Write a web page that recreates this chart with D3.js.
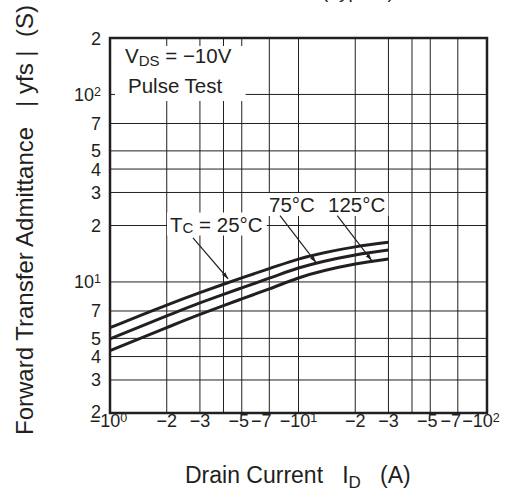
<!DOCTYPE html>
<html>
<head>
<meta charset="utf-8">
<script src="https://cdn.jsdelivr.net/npm/d3@7"></script>
<style>
  body { margin: 0; background: #fff; }
  text { font-family: "Liberation Sans", Arial, sans-serif; fill: #231f20; }
</style>
</head>
<body>
<div id="chart"></div>
<script>
// Data (|ID| in A, |yfs| in S)
const drainCurrent = [1, 2, 3, 4, 5, 7, 10, 20, 30];
const yfs25 = [5.70, 7.53, 8.77, 9.72, 10.51, 11.78, 13.24, 15.38, 16.26];
const yfs75 = [4.97, 6.59, 7.73, 8.59, 9.30, 10.47, 11.86, 13.93, 14.79];
const yfs125 = [4.30, 5.71, 6.71, 7.48, 8.12, 9.18, 10.50, 12.45, 13.24];

// grid + ticks
const xGrid = [2, 3, 4, 5, 7, 10, 20, 30, 40, 50, 70];
const yGrid = [3, 4, 5, 7, 10, 20, 30, 40, 50, 70, 100];
const xTickValues = [1, 2, 3, 5, 7, 10, 20, 30, 50, 70, 100];
const xTickLabels = ["−10^0", "−2", "−3", "−5", "−7", "−10^1", "−2", "−3", "−5", "−7", "−10^2"];
const yTickValues = [200, 100, 70, 50, 40, 30, 20, 10, 7, 5, 4, 3, 2];
const yTickLabels = ["2", "10^2", "7", "5", "4", "3", "2", "10^1", "7", "5", "4", "3", "2"];

const ink = "#231f20";
const margin = { top: 38, right: 25, bottom: 82, left: 110 };
const width = 512 - margin.left - margin.right;
const height = 495 - margin.top - margin.bottom;

const root = d3.select("#chart").append("svg")
    .attr("width", 512)
    .attr("height", 495);

const svg = root.append("g")
    .attr("transform", `translate(${margin.left},${margin.top})`);

const x = d3.scaleLog().domain([1, 100]).range([0, width]);
const y = d3.scaleLog().domain([2, 200]).range([height, 0]);

// label with optional superscript "a^b"
function supText(sel, str, supSize) {
    const parts = str.split("^");
    sel.append("tspan").text(parts[0]);
    if (parts[1]) sel.append("tspan").attr("font-size", supSize).attr("dy", -5).text(parts[1]);
}

// grid
svg.append("g").selectAll("line").data(xGrid).enter().append("line")
    .attr("x1", d => x(d)).attr("x2", d => x(d))
    .attr("y1", 0).attr("y2", height)
    .attr("stroke", ink).attr("stroke-width", 1);
svg.append("g").selectAll("line").data(yGrid).enter().append("line")
    .attr("x1", 0).attr("x2", width)
    .attr("y1", d => y(d)).attr("y2", d => y(d))
    .attr("stroke", ink).attr("stroke-width", 1);

// labels inside the plot (white boxes hide the grid behind them)
const boxes = svg.append("g");
const notes = svg.append("g").attr("font-size", 20.5);

const vds = notes.append("text").attr("x", 15).attr("y", 25);
vds.append("tspan").text("V");
vds.append("tspan").attr("font-size", 15).attr("dy", 3).text("DS");
vds.append("tspan").attr("dy", -3).text(" = −10V");
const pulse = notes.append("text").attr("x", 18).attr("y", 55).text("Pulse Test");

const tc = notes.append("text").attr("x", 60).attr("y", 193.5);
tc.append("tspan").text("T");
tc.append("tspan").attr("font-size", 15).attr("dy", 1).text("C");
tc.append("tspan").attr("dy", -1).text(" = 25°C");
const t75 = notes.append("text").attr("x", 159).attr("y", 174).text("75°C");
const t125 = notes.append("text").attr("x", 218).attr("y", 174).text("125°C");

function whiteBox(nodes, pad) {
    const bb = nodes.map(n => n.node().getBBox());
    const x0 = d3.min(bb, b => b.x), x1 = d3.max(bb, b => b.x + b.width);
    const y0 = d3.min(bb, b => b.y), y1 = d3.max(bb, b => b.y + b.height);
    boxes.append("rect")
        .attr("x", x0 - pad[3]).attr("y", y0 - pad[0])
        .attr("width", x1 - x0 + pad[1] + pad[3])
        .attr("height", y1 - y0 + pad[0] + pad[2])
        .attr("fill", "#fff");
}
whiteBox([vds, pulse], [-2, 14, 4, 10]);
whiteBox([tc], [0, 4, 0, 3]);
whiteBox([t75], [0, 3, 0, 3]);
whiteBox([t125], [0, 3, 0, 3]);

// curves
const line = d3.line()
    .x(d => x(d[0]))
    .y(d => y(d[1]))
    .curve(d3.curveMonotoneX);

[yfs25, yfs75, yfs125].forEach(vals => {
    svg.append("path")
        .datum(drainCurrent.map((c, i) => [c, vals[i]]))
        .attr("fill", "none")
        .attr("stroke", ink)
        .attr("stroke-width", 3)
        .attr("d", line);
});

// leader lines (data units)
root.append("defs").append("marker")
    .attr("id", "arr")
    .attr("markerUnits", "userSpaceOnUse")
    .attr("markerWidth", 8).attr("markerHeight", 6)
    .attr("refX", 7).attr("refY", 3)
    .attr("orient", "auto")
    .append("path").attr("d", "M0,0.8L7,3L0,5.2z").attr("fill", ink);

const leaders = [
    [[2.755, 17.2], [4.23, 10.4]],
    [[7.98, 22.6], [12.38, 12.7]],
    [[16.06, 22.6], [24.45, 13.0]]
];
svg.append("g").selectAll("line").data(leaders).enter().append("line")
    .attr("x1", d => x(d[0][0])).attr("y1", d => y(d[0][1]))
    .attr("x2", d => x(d[1][0])).attr("y2", d => y(d[1][1]))
    .attr("stroke", ink).attr("stroke-width", 1.2)
    .attr("marker-end", "url(#arr)");

// frame
svg.append("rect")
    .attr("width", width).attr("height", height)
    .attr("fill", "none").attr("stroke", ink).attr("stroke-width", 2.5);

// tick labels
const xShift = { 1: -1.5, 5: -3, 7: -8, 50: -3, 70: -7, 100: -6 };
svg.append("g").attr("font-size", 18).attr("text-anchor", "middle")
    .selectAll("text").data(xTickValues).enter().append("text")
    .attr("x", d => x(d) + (xShift[d] || 0))
    .attr("y", height + 14)
    .each(function (d, i) { supText(d3.select(this), xTickLabels[i], 12.5); });

svg.append("g").attr("font-size", 18).attr("text-anchor", "end")
    .selectAll("text").data(yTickValues).enter().append("text")
    .attr("x", -9)
    .attr("y", d => y(d) + (d === 2 ? 4.5 : 6.5))
    .each(function (d, i) { supText(d3.select(this), yTickLabels[i], 12.5); });

// axis titles
const xt = root.append("text")
    .attr("x", 185).attr("y", 483)
    .attr("font-size", 23)
    .style("white-space", "pre");
xt.append("tspan").text("Drain Current   I");
xt.append("tspan").attr("font-size", 17).attr("dy", 5).text("D");
xt.append("tspan").attr("dy", -5).text("   (A)");

root.append("text")
    .attr("transform", "translate(33,435) rotate(-90)")
    .attr("font-size", 24)
    .style("white-space", "pre")
    .text("Forward Transfer Admittance   | yfs |  (S)");

// title, cut off at the top edge
root.append("text")
    .attr("x", 322).attr("y", -2.5)
    .attr("font-size", 19)
    .text("(Typical)");
</script>
</body>
</html>
